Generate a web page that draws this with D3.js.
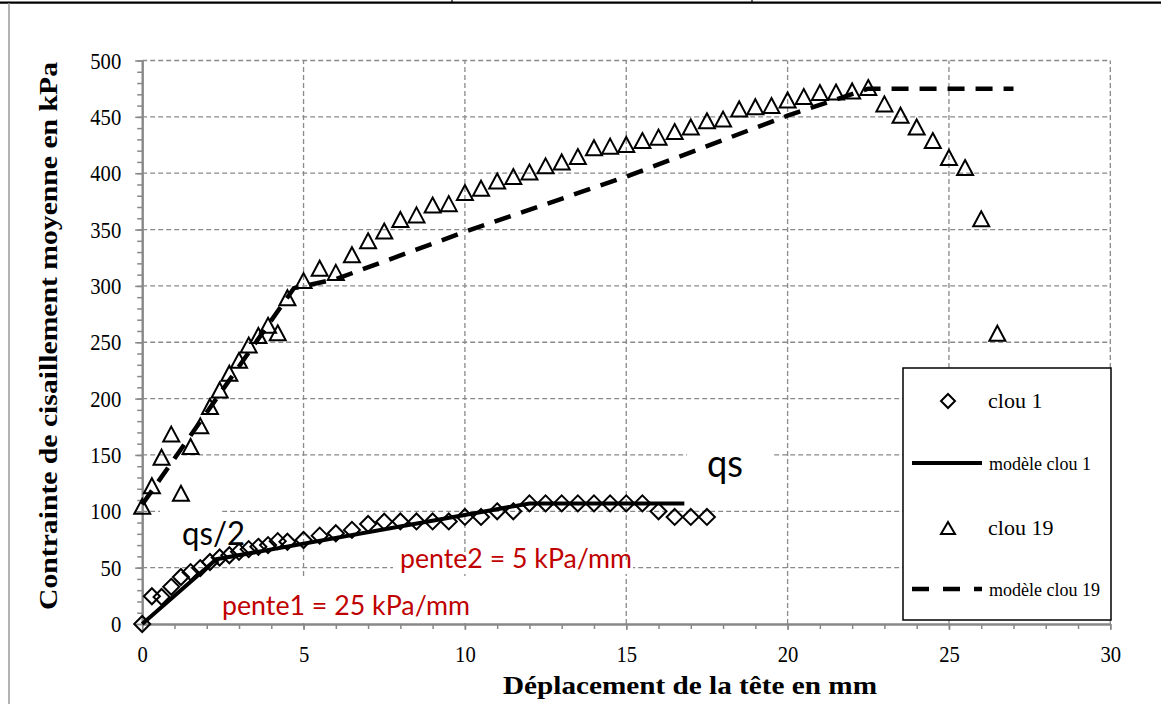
<!DOCTYPE html>
<html><head><meta charset="utf-8">
<script src="https://cdn.jsdelivr.net/npm/d3@7"></script>
<style>body{margin:0;background:#fff;} svg{display:block;}</style>
</head><body>
<svg id="c" width="1161" height="704"></svg>
<script>
// ---- data ----
const xTicks = [0,5,10,15,20,25,30];
const yTicks = [0,50,100,150,200,250,300,350,400,450,500];

const clou1X = [0,0.3,0.6,0.9,1.2,1.5,1.8,2.1,2.4,2.7,3.0,3.3,3.6,3.9,4.2,4.5,
  5,5.5,6,6.5,7,7.5,8,8.5,9,9.5,10,10.5,11,11.5,12,12.5,13,13.5,14,14.5,15,15.5,16,16.5,17,17.5];
const clou1Y = [0,24.6,24,33,41.7,46,49.6,55,59,61,64,66.4,68.5,70,73.5,73,
  74.5,78.4,80.5,83.5,88.8,90.8,91,91,91,91,95,95,100,100,107,107,107,107,107,107,107,107,100,95,95,95];

const clou19X = [0,0.3,0.6,0.9,1.2,1.5,1.8,2.1,2.4,2.7,3.0,3.3,3.6,3.9,4.2,4.5,
  5,5.5,6,6.5,7,7.5,8,8.5,9,9.5,10,10.5,11,11.5,12,12.5,13,13.5,14,14.5,15,15.5,16,16.5,17,17.5,
  18,18.5,19,19.5,20,20.5,21,21.5,22,22.5,23,23.5,24,24.5,25,25.5,26,26.5];
const clou19Y = [104.4,122.7,148,168.5,116,157.5,175.8,193,207.7,222.5,234,247.5,256,265,258.4,289.5,
  304.7,315.7,312,327.7,340,348.7,359,363,371.7,373,382.8,386.7,393,397,401,406.5,410,414.8,422.6,424,425.5,429,432,437,441,446.5,
  448,457,459,460,465,468,471.6,472,473,476,461.5,451.5,441,429,414,405,359.5,258];

const model1X = [0,2.3,12,16.8];
const model1Y = [0,57.5,107,107];
const model19X = [0,4.7,5.2,6,10,15,20,22.5,27];
const model19Y = [106,298,301,306,348,397,451,475,475];

const legendLabels = ["clou 1","modèle clou 1","clou 19","modèle clou 19"];
const annotations = ["qs/2","qs","pente1 = 25 kPa/mm","pente2 = 5 kPa/mm"];

// ---- chart ----
const svg = d3.select("#c");
const x = d3.scaleLinear().domain([0,30]).range([142.2,1110.3]);
const y = d3.scaleLinear().domain([0,500]).range([624,60.5]);
const serif = "'Liberation Serif','Times New Roman',serif";
const sans = "Lato,'Open Sans',sans-serif";
const gridCol = "#8a8a8a", axisCol = "#888";
const squash = 0.86;

// page frame
svg.append("line").attr("x1",0).attr("x2",1161).attr("y1",2.7).attr("y2",2.7).attr("stroke","#000").attr("stroke-width",2.2);
[452,752].forEach(px=>svg.append("line").attr("x1",px).attr("x2",px).attr("y1",0).attr("y2",3).attr("stroke","#000").attr("stroke-width",1.2));
svg.append("line").attr("x1",9).attr("x2",9).attr("y1",3).attr("y2",704).attr("stroke","#9a9a9a").attr("stroke-width",1.5);

// gridlines
const grid = svg.append("g");
grid.selectAll("line.h").data(yTicks.filter(d=>d>0)).join("line").attr("class","h")
  .attr("x1",x(0)).attr("x2",x(30)).attr("y1",d=>y(d)).attr("y2",d=>y(d));
grid.selectAll("line.v").data(xTicks.filter(d=>d>0)).join("line").attr("class","v")
  .attr("y1",y(0)).attr("y2",y(500)).attr("x1",d=>x(d)).attr("x2",d=>x(d));
grid.selectAll("line").attr("stroke",gridCol).attr("stroke-width",1.3).attr("stroke-dasharray","5,3");

// white text-box backgrounds that hide the grid
const masks = svg.append("g").attr("fill","#fff");
masks.append("rect").attr("x",160).attr("y",505).attr("width",61).attr("height",45);
masks.append("rect").attr("x",215).attr("y",577).attr("width",258).attr("height",46);
masks.append("rect").attr("x",393).attr("y",560).attr("width",240).attr("height",14);
masks.append("rect").attr("x",687).attr("y",445).attr("width",85).attr("height",42);

// axes
function styleAxis(g){
  g.select(".domain").attr("stroke",axisCol).attr("stroke-width",2);
  g.selectAll(".tick line").attr("stroke",axisCol).attr("stroke-width",1.5);
  g.selectAll("text").attr("font-family",serif).attr("font-size",24).attr("fill","#000");
}
const gxMinor = svg.append("g").attr("transform",`translate(0,${y(0)})`)
  .call(d3.axisBottom(x).tickValues(d3.range(0,31,1)).tickSize(5).tickSizeOuter(0).tickFormat(""));
styleAxis(gxMinor);
const gx = svg.append("g").attr("transform",`translate(0,${y(0)})`)
  .call(d3.axisBottom(x).tickValues(xTicks).tickSize(6).tickSizeOuter(0).tickPadding(15).tickFormat(d3.format("d")));
styleAxis(gx);
gx.selectAll(".tick text").attr("transform",`scale(${squash},1)`);
const gyMinor = svg.append("g").attr("transform",`translate(${x(0)},0)`)
  .call(d3.axisLeft(y).tickValues(d3.range(0,501,10)).tickSize(5).tickSizeOuter(0).tickFormat(""));
styleAxis(gyMinor);
const gy = svg.append("g").attr("transform",`translate(${x(0)},0)`)
  .call(d3.axisLeft(y).tickValues(yTicks).tickSize(7).tickSizeOuter(0).tickPadding(14).tickFormat(d3.format("d")));
styleAxis(gy);
gy.selectAll(".tick text").attr("x",-21/squash).attr("transform",`scale(${squash},1)`);

// axis titles
svg.append("text").attr("x",690).attr("y",694).attr("text-anchor","middle")
  .attr("font-family",serif).attr("font-weight","bold").attr("font-size",26)
  .attr("textLength",374).attr("lengthAdjust","spacingAndGlyphs")
  .text("Déplacement de la tête en mm");
svg.append("text").attr("transform","translate(57,336) rotate(-90)").attr("text-anchor","middle")
  .attr("font-family",serif).attr("font-weight","bold").attr("font-size",26)
  .attr("textLength",548).attr("lengthAdjust","spacingAndGlyphs")
  .text("Contrainte de cisaillement moyenne en kPa");

// model lines
const line = d3.line().x(d=>x(d[0])).y(d=>y(d[1]));
svg.append("path").datum(model1X.map((v,i)=>[v,model1Y[i]])).attr("d",line)
  .attr("fill","none").attr("stroke","#000").attr("stroke-width",4);
svg.append("path").datum(model19X.map((v,i)=>[v,model19Y[i]])).attr("d",line)
  .attr("fill","none").attr("stroke","#000").attr("stroke-width",4.5).attr("stroke-dasharray","17,11");

// markers
const diamond = s=>`M0,${-s}L${s},0L0,${s}L${-s},0Z`;
const tri = (w,h)=>`M0,${-h/2}L${w/2},${h/2}L${-w/2},${h/2}Z`;
svg.append("g").selectAll("path").data(clou1X.map((v,i)=>[v,clou1Y[i]])).join("path")
  .attr("d",diamond(8)).attr("transform",d=>`translate(${x(d[0])},${y(d[1])})`)
  .attr("fill","none").attr("stroke","#000").attr("stroke-width",2);
svg.append("g").selectAll("path").data(clou19X.map((v,i)=>[v,clou19Y[i]])).join("path")
  .attr("d",tri(16,15)).attr("transform",d=>`translate(${x(d[0])},${y(d[1])})`)
  .attr("fill","none").attr("stroke","#000").attr("stroke-width",2);

// annotations
svg.append("text").attr("x",182).attr("y",545).attr("font-family",sans).attr("font-size",33)
  .attr("textLength",63).attr("lengthAdjust","spacingAndGlyphs").text(annotations[0]);
svg.append("text").attr("x",707).attr("y",477).attr("font-family",sans).attr("font-size",39)
  .attr("textLength",36).attr("lengthAdjust","spacingAndGlyphs").text(annotations[1]);
svg.append("text").attr("x",222).attr("y",615).attr("font-family",sans).attr("font-size",26).attr("fill","#c00000")
  .attr("textLength",248).attr("lengthAdjust","spacingAndGlyphs").text(annotations[2]);
svg.append("text").attr("x",400).attr("y",568).attr("font-family",sans).attr("font-size",26).attr("fill","#c00000")
  .attr("textLength",232).attr("lengthAdjust","spacingAndGlyphs").text(annotations[3]);

// legend
const lg = svg.append("g");
lg.append("rect").attr("x",903).attr("y",368).attr("width",208).attr("height",252)
  .attr("fill","#fff").attr("stroke","#000").attr("stroke-width",1.5);
lg.append("path").attr("d",diamond(7)).attr("transform","translate(948,401)")
  .attr("fill","none").attr("stroke","#000").attr("stroke-width",2);
lg.append("line").attr("x1",912).attr("x2",982).attr("y1",463).attr("y2",463).attr("stroke","#000").attr("stroke-width",4);
lg.append("path").attr("d",tri(14,12)).attr("transform","translate(948,528)")
  .attr("fill","none").attr("stroke","#000").attr("stroke-width",2);
lg.append("line").attr("x1",912).attr("x2",982).attr("y1",589).attr("y2",589).attr("stroke","#000").attr("stroke-width",4.5).attr("stroke-dasharray","17,14");
const ly = [408,470,535,596];
const lsz = [22,18,22,18];
legendLabels.forEach((t,i)=>{
  lg.append("text").attr("x",i%2?989:988).attr("y",ly[i]).attr("font-family",serif).attr("font-size",lsz[i]).text(t);
});
</script>
</body></html>
